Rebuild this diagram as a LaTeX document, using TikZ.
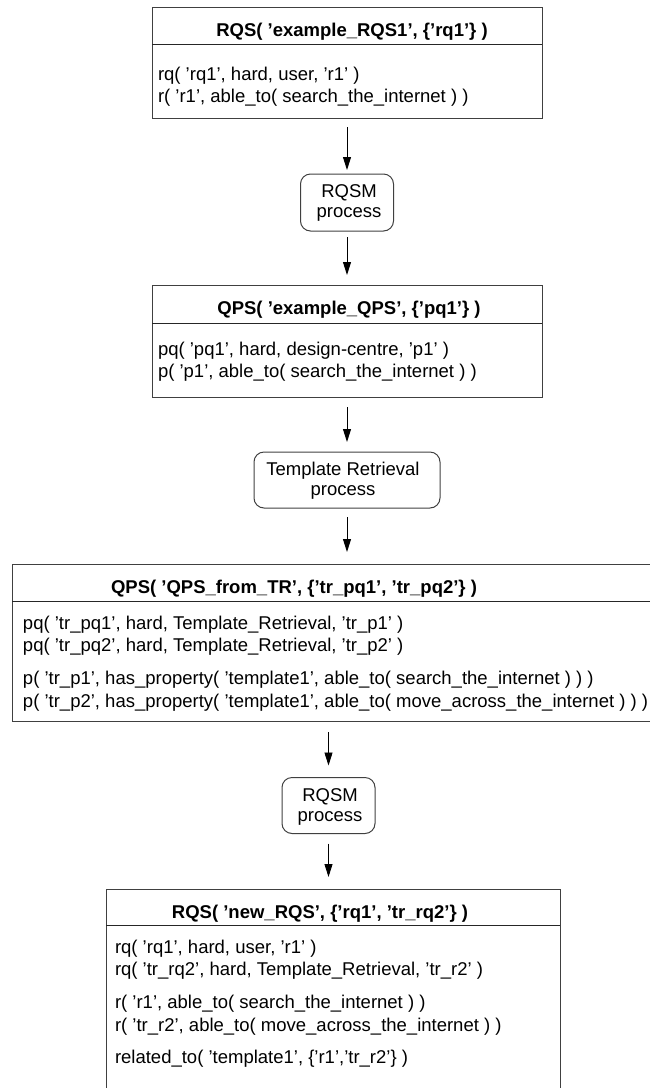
\documentclass[tikz,border=0pt]{standalone}
\usepackage{fontspec}
\setmainfont{Liberation Sans}
\usetikzlibrary{arrows.meta}
\begin{document}
\begin{tikzpicture}[x=1pt,y=-1pt,
  frame/.style={draw=black!75, line width=1pt, inner sep=0pt, outer sep=0pt},
  hidden/.style={inner sep=0pt, outer sep=0pt},
  frameline/.style={draw=black!75, line width=1pt},
  proc/.style={frame, rounded corners=10pt},
  divider/.style={draw=black!85, line width=0.9pt},
  txt/.style={inner sep=0pt, outer sep=0pt, anchor=base west, font=\fontsize{18.5}{22}\selectfont},
  ttl/.style={inner sep=0pt, outer sep=0pt, anchor=base, font=\fontsize{18.5}{22}\selectfont\bfseries},
  ctr/.style={inner sep=0pt, outer sep=0pt, anchor=base, font=\fontsize{18.5}{22}\selectfont},
  arr/.style={-{Triangle[length=13pt,width=8pt]}, line width=0.9pt}
]
\useasboundingbox (0,0) rectangle (650,1088);

% ---------- Box 1 ----------
\node[frame, minimum width=390pt, minimum height=111pt] (b1) at (347,62.5) {};
\coordinate (d1) at (0,44);
\draw[divider] (b1.west |- d1) -- (b1.east |- d1);
\node[ttl] (t1) at (352,36.5) {RQS( ’example\_RQS1’, \{’rq1’\} )};
\node[txt] (l1a) at (158,80) {rq( ’rq1’, hard, user, ’r1’ )};
\node[txt] (l1b) at (158,102) {r( ’r1’, able\_to( search\_the\_internet ) )};

% ---------- RQSM 1 ----------
\node[proc, minimum width=93pt, minimum height=57pt] (q1) at (347,202.5) {};
\node[ctr] (q1a) at (349,197) {RQSM};
\node[ctr] (q1b) at (349,217) {process};

% ---------- Box 2 ----------
\node[frame, minimum width=390pt, minimum height=112pt] (b2) at (347,341) {};
\coordinate (d2) at (0,323);
\draw[divider] (b2.west |- d2) -- (b2.east |- d2);
\node[ttl] (t2) at (349,314.5) {QPS( ’example\_QPS’, \{’pq1’\} )};
\node[txt] (l2a) at (158,355) {pq( ’pq1’, hard, design-centre, ’p1’ )};
\node[txt] (l2b) at (158,377) {p( ’p1’, able\_to( search\_the\_internet ) )};

% ---------- Template Retrieval ----------
\node[proc, minimum width=186pt, minimum height=56pt] (tr) at (347,480) {};
\node[ctr] (tra) at (343,475) {Template Retrieval};
\node[ctr] (trb) at (343,495) {process};

% ---------- Box 3 ----------
\node[hidden, minimum width=640pt, minimum height=157pt] (b3) at (332,642.5) {};
\draw[frameline] (b3.north east) -- (b3.north west) -- (b3.south west) -- (b3.south east);
\coordinate (d3) at (0,601);
\draw[divider] (b3.west |- d3) -- (b3.east |- d3);
\node[ttl] (t3) at (294,593.5) {QPS( ’QPS\_from\_TR’, \{’tr\_pq1’, ’tr\_pq2’\} )};
\node[txt] (l3a) at (23,629) {pq( ’tr\_pq1’, hard, Template\_Retrieval, ’tr\_p1’ )};
\node[txt] (l3b) at (23,651) {pq( ’tr\_pq2’, hard, Template\_Retrieval, ’tr\_p2’ )};
\node[txt] (l3c) at (23,684) {p( ’tr\_p1’, has\_property( ’template1’, able\_to( search\_the\_internet ) ) )};
\node[txt] (l3d) at (23,707) {p( ’tr\_p2’, has\_property( ’template1’, able\_to( move\_across\_the\_internet ) ) )};

% ---------- RQSM 2 ----------
\node[proc, minimum width=93pt, minimum height=56pt] (q2) at (328.5,805.5) {};
\node[ctr] (q2a) at (330,801) {RQSM};
\node[ctr] (q2b) at (330,821) {process};

% ---------- Box 4 ----------
\node[hidden, minimum width=454pt, minimum height=203pt] (b4) at (333,990.5) {};
\draw[frameline] (b4.south west) -- (b4.north west) -- (b4.north east) -- (b4.south east);
\coordinate (d4) at (0,925);
\draw[divider] (b4.west |- d4) -- (b4.east |- d4);
\node[ttl] (t4) at (320,918.5) {RQS( ’new\_RQS’, \{’rq1’, ’tr\_rq2’\} )};
\node[txt] (l4a) at (115,953) {rq( ’rq1’, hard, user, ’r1’ )};
\node[txt] (l4b) at (115,975) {rq( ’tr\_rq2’, hard, Template\_Retrieval, ’tr\_r2’ )};
\node[txt] (l4c) at (115,1008) {r( ’r1’, able\_to( search\_the\_internet ) )};
\node[txt] (l4d) at (115,1031) {r( ’tr\_r2’, able\_to( move\_across\_the\_internet ) )};
\node[txt] (l4e) at (115,1063) {related\_to( ’template1’, \{’r1’,’tr\_r2’\} )};

% ---------- Connectors ----------
\draw[arr, shorten <=9pt, shorten >=4pt] (b1.south) -- (q1.north);
\draw[arr, shorten <=6pt, shorten >=10pt] (q1.south) -- (b2.north);
\draw[arr, shorten <=10pt, shorten >=10pt] (b2.south) -- (tr.north);
\draw[arr, shorten <=9pt, shorten >=12pt] (tr.south) -- (tr.south |- b3.north);
\draw[arr, shorten <=11pt, shorten >=12pt] (q2.north |- b3.south) -- (q2.north);
\draw[arr, shorten <=10pt, shorten >=12pt] (q2.south) -- (q2.south |- b4.north);
\end{tikzpicture}
\end{document}
